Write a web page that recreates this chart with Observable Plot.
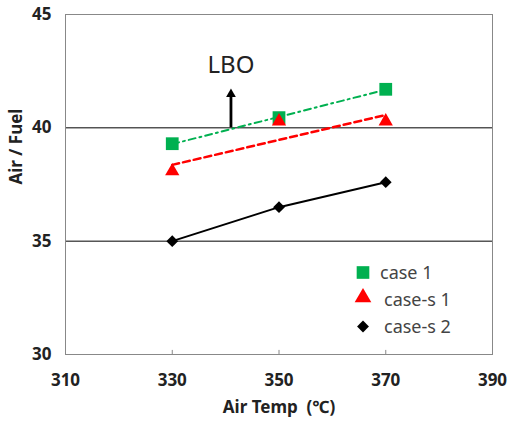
<!DOCTYPE html>
<html><head><meta charset="utf-8">
<script src="https://cdn.jsdelivr.net/npm/d3@7"></script>
<script src="https://cdn.jsdelivr.net/npm/@observablehq/plot@0.6"></script>
<style>
body{margin:0;background:#fff;}
#wrap{position:relative;width:509px;height:425px;font-family:"Noto Sans","Noto Sans CJK KR",sans-serif;}
#legend{position:absolute;left:350px;top:259px;font-size:18px;color:#444;}
.row{display:flex;align-items:center;height:27px;}
.row svg{width:26px;height:27px;flex:none;}
.row span{line-height:27px;}
</style></head><body><div id="wrap"></div>
<script>
const temps = [330, 350, 370];
const case1 = [39.3, 40.45, 41.7];
const caseS1 = [38.0, 40.2, 40.2];
const caseS2 = [35.0, 36.5, 37.6];
const seriesNames = ["case 1", "case-s 1", "case-s 2"];
const seriesColors = ["#00b050", "#ff0000", "#000000"];
const seriesSymbols = ["square", "triangle", "diamond2"];
const xTicks = [310, 330, 350, 370, 390];
const yTicks = [30, 35, 40, 45];
const refLines = [35, 40];
const innerTicks = [330, 350, 370];
const lboX = [341];
const lboFrom = [40];
const lboTo = [41.75];
const lboLabelY = [42.75];
const lboText = ["LBO"];
const xLabel = "Air Temp\u00a0 (℃)";
const yLabel = "Air / Fuel";

const toRows = vals => temps.map((t, i) => ({x: t, y: vals[i]}));
const d1 = toRows(case1), d2 = toRows(caseS1), d3r = toRows(caseS2);
const lbo = lboX.map((x, i) => ({x, y1: lboFrom[i], y2: lboTo[i], ly: lboLabelY[i], text: lboText[i]}));

const font = '"Noto Sans","Noto Sans CJK KR",sans-serif';
const chart = Plot.plot({
  width: 509, height: 425,
  marginLeft: 65, marginRight: 17, marginTop: 14, marginBottom: 71,
  style: {fontFamily: font, background: "white", color: "#222"},
  x: {domain: [310, 390], label: null},
  y: {domain: [30, 45], label: null},
  marks: [
    Plot.ruleY(refLines, {stroke: "#000", strokeWidth: 1}),
    Plot.frame({stroke: "#888"}),
    Plot.ruleX(innerTicks, {y1: 30, y2: 30.18, stroke: "#888"}),
    Plot.axisX({ticks: xTicks, tickSize: 0, tickPadding: 19, fontSize: 17, fontWeight: "bold", label: null}),
    Plot.axisY({ticks: yTicks, tickSize: 0, tickPadding: 14, fontSize: 17, fontWeight: "bold", label: null}),
    Plot.text([xLabel], {frameAnchor: "bottom", dy: 58, fontSize: 17, fontWeight: "bold", fill: "#222"}),
    Plot.text([yLabel], {frameAnchor: "left", dx: -49, rotate: -90, fontSize: 17, fontWeight: "bold", fill: "#222"}),
    Plot.linearRegressionY(d1, {x: "x", y: "y", stroke: seriesColors[0], strokeWidth: 2, strokeDasharray: "7,4,2,4", ci: 0}),
    Plot.linearRegressionY(d2, {x: "x", y: "y", stroke: seriesColors[1], strokeWidth: 2.5, strokeDasharray: "7,4", ci: 0}),
    Plot.line(d3r, {x: "x", y: "y", stroke: seriesColors[2], strokeWidth: 2}),
    Plot.dot(d1, {x: "x", y: "y", symbol: seriesSymbols[0], r: 7.2, fill: seriesColors[0], stroke: "none"}),
    Plot.dot(d2, {x: "x", y: "y", symbol: seriesSymbols[1], r: 5.3, dy: -2, fill: seriesColors[1], stroke: "none"}),
    Plot.dot(d3r, {x: "x", y: "y", symbol: seriesSymbols[2], r: 5.3, fill: seriesColors[2], stroke: "none"}),
    Plot.ruleX(lbo, {x: "x", y1: "y2", y2: "y1", stroke: "#000", strokeWidth: 2.8, insetTop: 6}),
    Plot.dot(lbo, {x: "x", y: "y2", symbol: "triangle", r: 3.6, dy: 6, fill: "#000", stroke: "none"}),
    Plot.text(lbo, {x: "x", y: "ly", text: "text", fontSize: 24, fill: "#222"})
  ]
});
const wrap = document.getElementById("wrap");
wrap.appendChild(chart);

const legend = document.createElement("div");
legend.id = "legend";
const symMap = {square: d3.symbolSquare, triangle: d3.symbolTriangle, diamond2: d3.symbolDiamond2};
const symSize = {square: 160, triangle: 120, diamond2: 90};
seriesNames.forEach((name, i) => {
  const row = document.createElement("div");
  row.className = "row";
  const s = seriesSymbols[i];
  const p = d3.symbol(symMap[s], symSize[s])();
  const dy = s === "triangle" ? 11.5 : 13.5;
  row.innerHTML = `<svg><path d="${p}" transform="translate(13,${dy})" fill="${seriesColors[i]}"/></svg><span style="margin-left:${i === 0 ? 4 : 8}px">${name}</span>`;
  legend.appendChild(row);
});
wrap.appendChild(legend);
</script></body></html>
